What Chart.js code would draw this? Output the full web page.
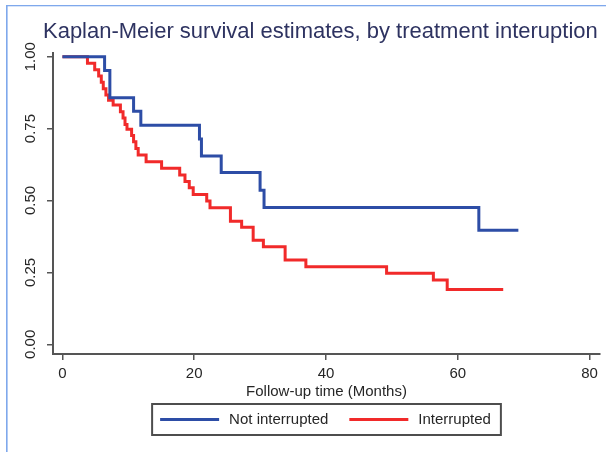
<!DOCTYPE html>
<html>
<head>
<meta charset="utf-8">
<title>Kaplan-Meier survival estimates</title>
<script src="https://cdn.jsdelivr.net/npm/chart.js@4.4.1/dist/chart.umd.min.js"></script>
<style>
  html, body { margin: 0; padding: 0; background: #fff; }
  #wrap { position: relative; width: 606px; height: 452px; }
</style>
</head>
<body>
<div id="wrap"><canvas id="kmChart" width="606" height="452"></canvas></div>
<script>
'use strict';

const titleText = 'Kaplan-Meier survival estimates, by treatment interuption';
const xTitle = 'Follow-up time (Months)';
const seriesNames = ['Not interrupted', 'Interrupted'];
const xTicks = [0, 20, 40, 60, 80];
const yTicks = [0, 0.25, 0.5, 0.75, 1];
const yTickLabels = ['0.00', '0.25', '0.50', '0.75', '1.00'];

// not interrupted group (time of drop, survival after it)
const notIntTime = [0, 6.4, 7.2, 10.8, 11.9, 20.8, 21.1, 24.1, 30.0, 30.6, 63.2, 69.2];
const notIntSurv = [1, 0.952, 0.857, 0.810, 0.762, 0.714, 0.655, 0.597, 0.536, 0.476, 0.397, 0.397];

// interrupted group
const intTime = [0, 3.8, 4.9, 5.5, 5.9, 6.2, 6.6, 7.0, 7.7, 8.8,
  9.2, 9.5, 9.8, 10.5, 10.8, 11.15, 11.5, 12.7, 15.05, 17.8,
  18.6, 19.25, 19.85, 21.9, 22.4, 25.5, 27.2, 28.95, 30.5, 33.8,
  36.95, 49.2, 56.3, 58.4, 66.9];
const intSurv = [1, 0.977, 0.955, 0.933, 0.911, 0.889, 0.867, 0.849, 0.832, 0.809,
  0.787, 0.764, 0.748, 0.726, 0.704, 0.681, 0.658, 0.635, 0.612, 0.589,
  0.566, 0.544, 0.521, 0.498, 0.475, 0.428, 0.407, 0.362, 0.339, 0.293,
  0.270, 0.247, 0.224, 0.191, 0.191];

const blue = '#2d4da6';
const red = '#f12a2a';
const fontFamily = '"Liberation Sans", Arial, Helvetica, sans-serif';
const inkColor = '#262626';
const axisColor = '#555555';

function toPoints(times, surv) {
  return times.map((t, i) => ({ x: t, y: surv[i] }));
}

// frame, title, rotated y labels and boxed legend
const kmDecor = {
  id: 'kmDecor',
  beforeDraw(chart) {
    const ctx = chart.ctx;
    ctx.save();
    ctx.fillStyle = '#7fa8ec';
    ctx.fillRect(6, 5, 1.6, 447);
    ctx.fillRect(6, 5, 600, 1.3);
    ctx.restore();
  },
  afterDraw(chart) {
    const ctx = chart.ctx;
    const area = chart.chartArea;
    ctx.save();

    // title, stretched to its width in the picture
    ctx.font = '20px ' + fontFamily;
    let size = 20 * 555 / ctx.measureText(titleText).width;
    ctx.font = size.toFixed(2) + 'px ' + fontFamily;
    ctx.fillStyle = '#2e3361';
    ctx.textAlign = 'left';
    ctx.textBaseline = 'alphabetic';
    ctx.fillText(titleText, 43, 38);

    // y tick labels, rotated
    const ys = chart.scales.y;
    ctx.font = '15px ' + fontFamily;
    ctx.fillStyle = inkColor;
    ctx.textAlign = 'center';
    ctx.textBaseline = 'middle';
    yTicks.forEach((v, i) => {
      ctx.save();
      ctx.translate(30.5, ys.getPixelForValue(v));
      ctx.rotate(-Math.PI / 2);
      ctx.fillText(yTickLabels[i], 0, 0);
      ctx.restore();
    });

    // legend
    const ds = chart.data.datasets;
    const w1 = ctx.measureText(ds[0].label).width;
    const w2 = ctx.measureText(ds[1].label).width;
    const total = 8 + 59 + 10 + w1 + 21 + 59 + 10 + w2 + 10;
    const left = (area.left + area.right) / 2 - total / 2;
    const top = 404;
    const mid = top + 15.5;
    ctx.strokeStyle = '#4d4d4d';
    ctx.lineWidth = 2;
    ctx.strokeRect(left, top, total, 31);

    let x = left + 8;
    ctx.textAlign = 'left';
    [[ds[0], w1], [ds[1], w2]].forEach(([d, w]) => {
      ctx.strokeStyle = d.borderColor;
      ctx.lineWidth = 3;
      ctx.beginPath();
      ctx.moveTo(x, mid);
      ctx.lineTo(x + 59, mid);
      ctx.stroke();
      ctx.fillStyle = inkColor;
      ctx.fillText(d.label, x + 69, mid);
      x += 59 + 10 + w + 21;
    });

    ctx.restore();
  }
};

const axisGrid = {
  drawOnChartArea: false,
  drawTicks: true,
  tickLength: 6,
  color: axisColor,
  lineWidth: 1.5
};
const axisBorder = { display: true, color: axisColor, width: 2 };

const ctx = document.getElementById('kmChart').getContext('2d');

new Chart(ctx, {
  type: 'line',
  data: {
    datasets: [{
      label: seriesNames[0],
      data: toPoints(notIntTime, notIntSurv),
      borderColor: blue,
      backgroundColor: blue,
      stepped: true
    }, {
      label: seriesNames[1],
      data: toPoints(intTime, intSurv),
      borderColor: red,
      backgroundColor: red,
      stepped: true
    }]
  },
  options: {
    responsive: false,
    animation: false,
    devicePixelRatio: 1,
    layout: { padding: { top: 53, right: 6, bottom: 50, left: 0 } },
    elements: {
      point: { radius: 0 },
      line: { borderWidth: 3, fill: false, borderCapStyle: 'butt', borderJoinStyle: 'miter' }
    },
    plugins: {
      legend: { display: false },
      title: { display: false },
      tooltip: { enabled: false }
    },
    scales: {
      x: {
        type: 'linear',
        min: -1.43,
        max: 81.59,
        afterBuildTicks: s => { s.ticks = xTicks.map(v => ({ value: v })); },
        afterFit: s => { s.height = 48; },
        ticks: {
          font: { family: fontFamily, size: 15 },
          color: inkColor,
          padding: 5,
          maxRotation: 0,
          autoSkip: false
        },
        grid: axisGrid,
        border: axisBorder,
        title: {
          display: true,
          text: xTitle,
          font: { family: fontFamily, size: 15 },
          color: inkColor,
          padding: { top: 0, bottom: 1.5 }
        }
      },
      y: {
        type: 'linear',
        min: -0.0337,
        max: 1.0129,
        afterBuildTicks: s => { s.ticks = yTicks.map(v => ({ value: v })); },
        afterFit: s => { s.width = 53; },
        ticks: { display: false },
        grid: axisGrid,
        border: axisBorder
      }
    }
  },
  plugins: [kmDecor]
});
</script>
</body>
</html>
